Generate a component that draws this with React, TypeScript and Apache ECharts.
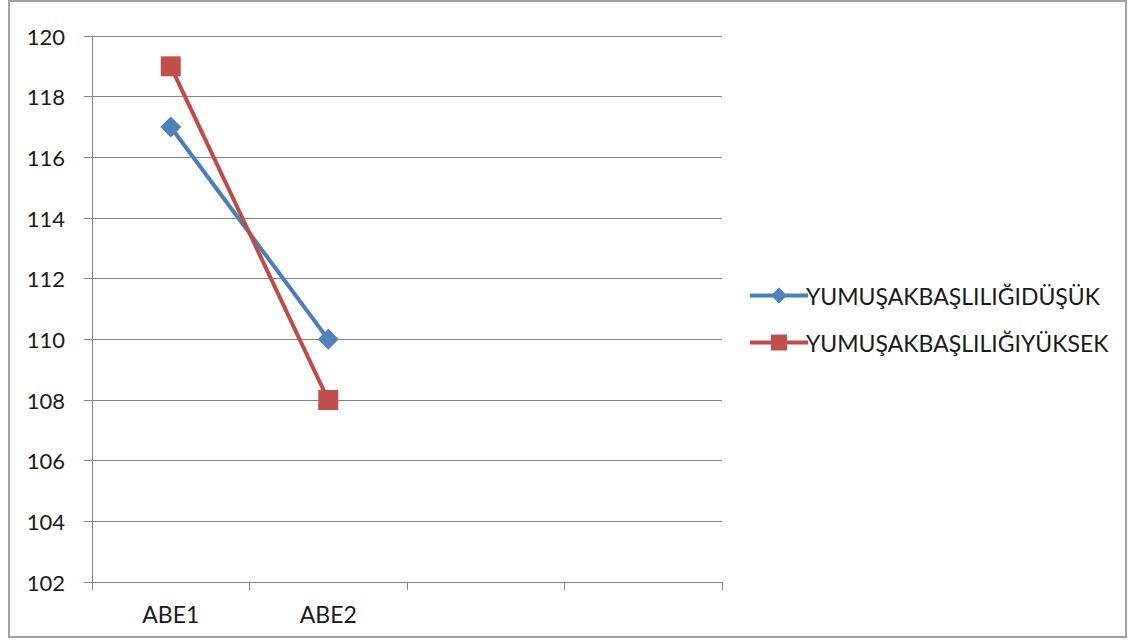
import React, { useEffect, useRef } from "react";
import * as echarts from "echarts";

const categories = ["ABE1", "ABE2", "", ""];
const seriesNames = ["YUMUŞAKBAŞLILIĞIDÜŞÜK", "YUMUŞAKBAŞLILIĞIYÜKSEK"];
const lowValues = [117, 110];
const highValues = [119, 108];
const yMin = 102;
const yMax = 120;
const yStep = 2;

export default function App() {
  const ref = useRef<HTMLDivElement>(null);
  useEffect(() => {
    if (!ref.current) return;
    const chart = echarts.init(ref.current, null, { renderer: "svg" });
    const font = "Lato, 'Liberation Sans', sans-serif";
    chart.setOption({
      animation: false,
      backgroundColor: "#ffffff",
      graphic: [
        {
          type: "rect",
          shape: { x: 9, y: 1, width: 1117, height: 636 },
          style: { fill: "none", stroke: "#a3a3a3", lineWidth: 2 },
          silent: true,
        },
      ],
      grid: { left: 92, right: 411, top: 36, bottom: 59, containLabel: false },
      legend: {
        orient: "vertical",
        left: 743,
        top: 279,
        itemWidth: 58,
        itemHeight: 20,
        itemGap: 24,
        lineStyle: { width: 4 },
        textStyle: { fontFamily: font, fontSize: 23, lineHeight: 20, color: "#1a1a1a", padding: [0, 0, 0, -7] },
        data: seriesNames,
      },
      xAxis: {
        type: "category",
        data: categories,
        boundaryGap: true,
        axisLine: { lineStyle: { color: "#868686", width: 1 } },
        axisTick: { show: true, length: 8, alignWithLabel: false, lineStyle: { color: "#868686" } },
        axisLabel: { fontFamily: font, fontSize: 23, color: "#1a1a1a", margin: 20, interval: 0 },
        splitLine: { show: false },
      },
      yAxis: {
        type: "value",
        min: yMin,
        max: yMax,
        interval: yStep,
        axisLine: { show: true, lineStyle: { color: "#868686", width: 1 } },
        axisTick: { show: true, length: 8, lineStyle: { color: "#868686" } },
        axisLabel: { fontFamily: font, fontSize: 22, color: "#1a1a1a", margin: 27 },
        splitLine: { show: true, lineStyle: { color: "#868686", width: 1 } },
      },
      series: [
        {
          name: seriesNames[0],
          type: "line",
          data: lowValues,
          symbol: "diamond",
          symbolSize: 21,
          lineStyle: { color: "#4a7ebb", width: 4 },
          itemStyle: { color: "#4f81bd" },
          z: 2,
        },
        {
          name: seriesNames[1],
          type: "line",
          data: highValues,
          symbol: "rect",
          symbolSize: 20,
          lineStyle: { color: "#be4b48", width: 4 },
          itemStyle: { color: "#c0504d" },
          z: 3,
        },
      ],
    });
    return () => chart.dispose();
  }, []);
  return (
    <div
      ref={ref}
      style={{ position: "fixed", left: 0, top: 0, width: 1133, height: 641, background: "#fff" }}
    />
  );
}
